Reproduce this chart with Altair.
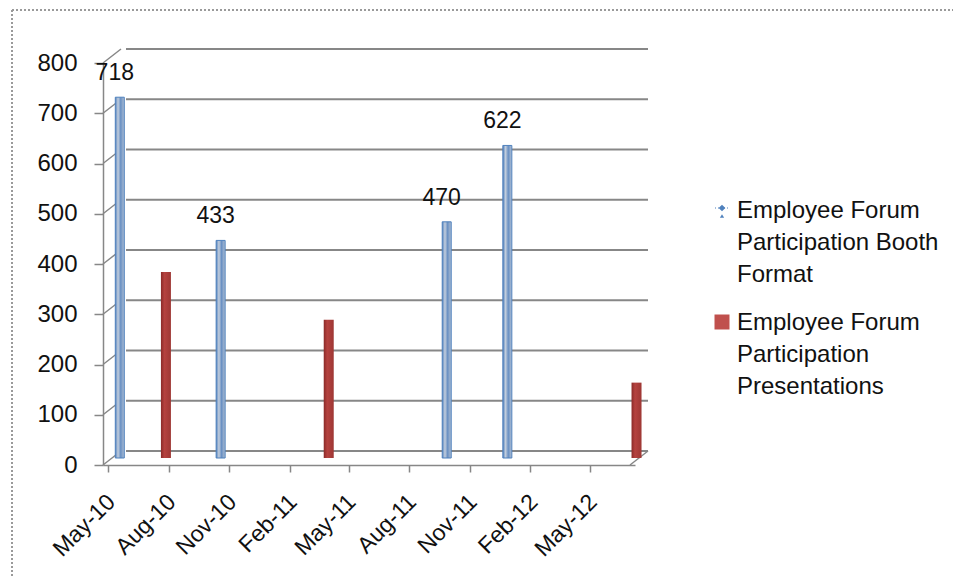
import altair as alt
import pandas as pd

# ---- data ----
booth_dates = ["2010-05-06", "2010-10-06", "2011-09-14", "2011-12-15"]
booth_values = [718, 433, 470, 622]
pres_dates = ["2010-07-15", "2011-03-19", "2012-06-28"]
pres_values = [370, 275, 150]
series_names = ["Employee Forum Participation Booth Format",
                "Employee Forum Participation Presentations"]
legend_text = ["Employee Forum\nParticipation Booth\nFormat",
               "Employee Forum\nParticipation\nPresentations"]
y_ticks = [0, 100, 200, 300, 400, 500, 600, 700, 800]
x_tick_dates = ["2010-05-01", "2010-08-01", "2010-11-01", "2011-02-01", "2011-05-01",
                "2011-08-01", "2011-11-01", "2012-02-01", "2012-05-01"]
x_tick_labels = ["May-10", "Aug-10", "Nov-10", "Feb-11", "May-11",
                 "Aug-11", "Nov-11", "Feb-12", "May-12"]
axis_start = "2010-05-01"
axis_end = "2012-07-01"


def dt(s):
    y, m, d = (int(p) for p in s.split("-"))
    return alt.DateTime(year=y, month=m, date=d)


def local(s):
    return s + "T00:00:00"


booth_df = pd.DataFrame({"date": [local(d) for d in booth_dates], "value": booth_values,
                         "series": series_names[0]})
pres_df = pd.DataFrame({"date": [local(d) for d in pres_dates], "value": pres_values,
                        "series": series_names[1]})
grid_df = pd.DataFrame({"v": y_ticks, "start": local(axis_start), "end": local(axis_end)})
# map each tick (by month index) to its label text
label_map = "{" + ",".join(
    f"'{d[:7]}':'{l}'" for d, l in zip(x_tick_dates, x_tick_labels)) + "}"

GRID = "#878787"
DX, DY = 18, -14           # depth of the 3-D box
BX, BY = 8.5, -7           # bars sit half way in

xs = alt.Scale(domain=[dt(axis_start), dt(axis_end)])
ys = alt.Scale(domain=[0, 800], nice=False)

x_axis = alt.Axis(values=[dt(d) for d in x_tick_dates],
                  labelExpr=f"{label_map}[timeFormat(datum.value, '%Y-%m')]",
                  labelAngle=-45,
                  labelAlign="right", labelBaseline="middle", labelFontSize=23,
                  labelOffset=3, labelPadding=26, tickSize=7, labelFlush=False,
                  labelOverlap=False, grid=False, title=None, domainColor=GRID,
                  tickColor=GRID, domainWidth=1.5, tickWidth=1.5, labelColor="#111")
y_axis = alt.Axis(values=y_ticks, labelFontSize=24, tickSize=9, labelPadding=17,
                  grid=False, title=None, domainColor=GRID, tickColor=GRID,
                  domainWidth=1.5, tickWidth=1.5, labelColor="#111")

X = lambda f: alt.X(f, type="temporal", scale=xs, axis=x_axis)
Y = lambda f: alt.Y(f, type="quantitative", scale=ys, axis=y_axis)

grid = alt.Chart(grid_df).mark_rule(color=GRID, strokeWidth=2, xOffset=DX, x2Offset=DX,
                                    yOffset=DY).encode(
    x=X("start"), x2="end", y=Y("v"))

diag = alt.Chart(grid_df).mark_rule(color=GRID, strokeWidth=1.5, y2Offset=DY).encode(
    x=alt.value(0), x2=alt.value(DX), y=Y("v"), y2="v")

floor_right = alt.Chart(grid_df).transform_filter("datum.v == 0").mark_rule(
    color=GRID, strokeWidth=1.5, x2Offset=DX, y2Offset=DY).encode(
    x=X("end"), x2="end", y=Y("v"), y2="v")

booth_fill = alt.Gradient(gradient="linear", x1=0, x2=1, y1=0, y2=0, stops=[
    alt.GradientStop(color="#4f7fbc", offset=0),
    alt.GradientStop(color="#c3cedd", offset=0.3),
    alt.GradientStop(color="#6990c3", offset=0.6),
    alt.GradientStop(color="#b3c1d4", offset=1)])
pres_fill = alt.Gradient(gradient="linear", x1=0, x2=1, y1=0, y2=0, stops=[
    alt.GradientStop(color="#8a2a28", offset=0),
    alt.GradientStop(color="#b5423f", offset=0.35),
    alt.GradientStop(color="#9e3734", offset=1)])

booth = alt.Chart(booth_df).mark_bar(size=9, xOffset=BX, x2Offset=BX, yOffset=BY,
                                     y2Offset=BY, fill=booth_fill, stroke="#4f81bd",
                                     strokeWidth=1).encode(x=X("date"), y=Y("value"))
pres = alt.Chart(pres_df).mark_bar(size=10, xOffset=BX, x2Offset=BX, yOffset=BY,
                                   y2Offset=BY, fill=pres_fill).encode(
    x=X("date"), y=Y("value"))

labels = alt.Chart(booth_df).mark_text(fontSize=23, dx=3.5, dy=-31, baseline="middle",
                                       color="#111").encode(
    x=X("date"), y=Y("value"), text="value:Q")

# legend
leg_x = 634
leg_style = dict(align="left", baseline="alphabetic", fontSize=24, lineBreak="\n",
                 lineHeight=32, color="#111")
leg1 = alt.Chart(pd.DataFrame({"t": [legend_text[0]]})).mark_text(**leg_style).encode(
    x=alt.value(leg_x), y=alt.value(155), text="t:N")
leg2 = alt.Chart(pd.DataFrame({"t": [legend_text[1]]})).mark_text(**leg_style).encode(
    x=alt.value(leg_x), y=alt.value(267), text="t:N")
sym1 = alt.Chart(pd.DataFrame({"s": [series_names[0]]})).mark_point(
    shape="diamond", filled=True, size=45, color="#4f81bd", opacity=1).encode(
    x=alt.value(619), y=alt.value(145))
sym1b = alt.Chart(pd.DataFrame({"s": [series_names[0]]})).mark_point(
    shape="triangle-up", filled=True, size=18, color="#4f81bd", opacity=1).encode(
    x=alt.value(619), y=alt.value(153))
sym1c = alt.Chart(pd.DataFrame({"s": [series_names[0]]})).mark_rule(
    color="#4f81bd", strokeDash=[1, 2], strokeWidth=1).encode(
    x=alt.value(612), x2=alt.value(627), y=alt.value(145))
sym2 = alt.Chart(pd.DataFrame({"s": [series_names[1]]})).mark_square(
    size=225, color="#c0504d", opacity=1).encode(x=alt.value(619), y=alt.value(259))

# dotted chart-area border
border_top = alt.Chart(pd.DataFrame({"s": [0]})).mark_rule(
    color="#9a9a9a", strokeDash=[2, 2], strokeWidth=2).encode(
    x=alt.value(-91), x2=alt.value(860), y=alt.value(-53))
border_left = alt.Chart(pd.DataFrame({"s": [0]})).mark_rule(
    color="#9a9a9a", strokeDash=[2, 2], strokeWidth=2).encode(
    x=alt.value(-91), y=alt.value(-53), y2=alt.value(520))

chart = alt.layer(grid, diag, floor_right, booth, pres, labels, leg1, leg2,
                  sym1c, sym1, sym1b, sym2, border_top, border_left).properties(
    width=532, height=402,
    autosize=alt.AutoSizeParams(type="none"),
    padding={"left": 95, "top": 55, "right": 318, "bottom": 112},
    background="white",
).configure(font="Liberation Sans").configure_view(stroke=None)

chart.save("out.html", embed_options={"renderer": "svg", "actions": False})
